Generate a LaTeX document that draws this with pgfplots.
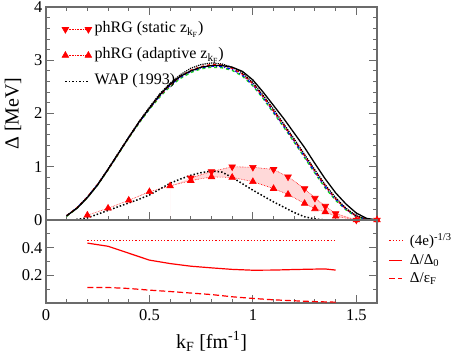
\documentclass[border=0pt]{standalone}
\usepackage{fontspec}
\setmainfont{Liberation Serif}
\usepackage{pgfplots}
\pgfplotsset{compat=1.18}
\definecolor{frame}{gray}{0.42}
\definecolor{ltgreen}{rgb}{0.1,0.85,0.1}
\pgfplotsset{
  panel/.style={
    scale only axis, width=331pt, xmin=0, xmax=1.6,
    axis line style={frame, line width=1.2pt},
    every tick/.style={frame, line width=0.9pt},
    tick align=inside,
    major tick length=8pt, minor tick length=4pt,
    xtick={0,0.5,1,1.5}, minor x tick num=4,
    tick label style={font=\fontsize{16.5}{16.5}\selectfont},
    /pgf/number format/assume math mode=true,
    label style={font=\fontsize{20}{20}\selectfont},
  },
  twomarks/.style={legend image code/.code={\draw[##1] plot coordinates {(0pt,0pt) (23pt,0pt)};}},
  lineimg/.style={legend image code/.code={\draw[##1] (0pt,0pt) -- (24pt,0pt);}},
  shortimg/.style={legend image code/.code={\draw[##1] (0pt,0pt) -- (13pt,0pt);}},
}
\begin{document}
\begin{tikzpicture}
% upper panel: gap
\begin{axis}[panel, name=top,
    height=213pt, ymin=0, ymax=4,
    ytick={0,1,2,3,4}, minor y tick num=4,
    xticklabels={},
    ylabel={Δ [MeV]},
    ylabel style={yshift=6pt},
    legend style={draw=none, fill=none, at={(0.045,0.945)}, anchor=north west,
      font=\fontsize{16}{16}\selectfont, row sep=7pt, inner sep=1pt,
      nodes={inner xsep=3pt, text height=11pt, text depth=4pt}},
    legend cell align=left,
]
% shaded band between static and adaptive
\addplot[fill=red!15, draw=none, forget plot] coordinates {
  (0.6,0.64) (0.7,0.79) (0.8,0.91) (0.9,1.0) (1.0,0.99) (1.1,0.95) (1.17,0.81)
  (1.25,0.59) (1.3,0.41) (1.35,0.26) (1.4,0.12) (1.5,0.0) (1.6,0.0)
  (1.5,0.0) (1.4,0.07) (1.35,0.15) (1.3,0.21) (1.25,0.31) (1.17,0.48) (1.1,0.59)
  (1.0,0.72) (0.9,0.80) (0.8,0.81) (0.7,0.74) (0.6,0.64)} \closedcycle;
% gap curves (no legend)
\addplot[ltgreen, line width=1.4pt, dashed, forget plot] coordinates {
  (0.1,0.07) (0.15,0.22) (0.2,0.42) (0.25,0.66) (0.3,0.94) (0.35,1.24) (0.4,1.54)
  (0.45,1.82) (0.5,2.08) (0.55,2.31) (0.6,2.51) (0.65,2.66) (0.7,2.77) (0.75,2.84)
  (0.8,2.87) (0.85,2.86) (0.9,2.81) (0.95,2.70) (1.0,2.52) (1.05,2.28) (1.1,2.01)
  (1.15,1.74) (1.2,1.46) (1.25,1.17) (1.3,0.88) (1.35,0.60) (1.4,0.37) (1.45,0.19)
  (1.5,0.06) (1.55,0.01) (1.6,0.0)};
\addplot[blue, line width=1.2pt, dash dot, forget plot] coordinates {
  (0.1,0.08) (0.15,0.23) (0.2,0.43) (0.25,0.67) (0.3,0.95) (0.35,1.25) (0.4,1.55)
  (0.45,1.83) (0.5,2.09) (0.55,2.33) (0.6,2.53) (0.65,2.68) (0.7,2.79) (0.75,2.86)
  (0.8,2.89) (0.85,2.88) (0.9,2.83) (0.95,2.72) (1.0,2.54) (1.05,2.30) (1.1,2.03)
  (1.15,1.76) (1.2,1.48) (1.25,1.19) (1.3,0.90) (1.35,0.62) (1.4,0.39) (1.45,0.20)
  (1.5,0.07) (1.55,0.01) (1.6,0.0)};
\addplot[red, line width=1.4pt, dashed, forget plot] coordinates {
  (0.1,0.08) (0.15,0.23) (0.2,0.43) (0.25,0.67) (0.3,0.95) (0.35,1.25) (0.4,1.55)
  (0.45,1.84) (0.5,2.10) (0.55,2.34) (0.6,2.54) (0.65,2.70) (0.7,2.81) (0.75,2.88)
  (0.8,2.92) (0.85,2.91) (0.9,2.85) (0.95,2.74) (1.0,2.56) (1.05,2.32) (1.1,2.05)
  (1.15,1.78) (1.2,1.50) (1.25,1.21) (1.3,0.92) (1.35,0.64) (1.4,0.40) (1.45,0.21)
  (1.5,0.07) (1.55,0.01) (1.6,0.0)};
\addplot[black, line width=1.2pt, densely dotted, forget plot] coordinates {
  (0.1,0.08) (0.15,0.23) (0.2,0.43) (0.25,0.67) (0.3,0.96) (0.35,1.26) (0.4,1.56)
  (0.45,1.85) (0.5,2.12) (0.55,2.37) (0.6,2.57) (0.65,2.73) (0.7,2.85) (0.75,2.92)
  (0.8,2.95) (0.85,2.93) (0.9,2.87) (0.95,2.76) (1.0,2.58) (1.05,2.34) (1.1,2.08)
  (1.15,1.80) (1.2,1.52) (1.25,1.23) (1.3,0.94) (1.35,0.66) (1.4,0.42) (1.45,0.22)
  (1.5,0.08) (1.55,0.02) (1.6,0.0)};
\addplot[black, line width=1.3pt, forget plot] coordinates {
  (0.1,0.08) (0.15,0.22) (0.2,0.42) (0.25,0.66) (0.3,0.95) (0.35,1.25) (0.4,1.55)
  (0.45,1.84) (0.5,2.10) (0.55,2.35) (0.6,2.55) (0.65,2.70) (0.7,2.80) (0.75,2.87)
  (0.8,2.90) (0.85,2.90) (0.9,2.87) (0.95,2.79) (1.0,2.63) (1.05,2.40) (1.1,2.15)
  (1.15,1.90) (1.2,1.63) (1.25,1.36) (1.3,1.06) (1.35,0.77) (1.4,0.51) (1.45,0.30)
  (1.5,0.13) (1.55,0.03) (1.6,0.0)};
% phRG
\addplot[red, densely dotted, line width=0.6pt, mark=triangle*,
  mark options={solid, rotate=180}, mark size=3.8pt, twomarks] coordinates {
  (0.7,0.79) (0.8,0.91) (0.9,1.0) (1.0,0.99) (1.1,0.95) (1.17,0.81)
  (1.25,0.59) (1.3,0.41) (1.35,0.26) (1.4,0.12) (1.5,0.0) (1.6,0.0)};
\addlegendentry{phRG (static z\textsubscript{k\textsubscript{F}})}
\addplot[red, densely dotted, line width=0.6pt, mark=triangle*,
  mark options={solid}, mark size=3.8pt, twomarks] coordinates {
  (0.2,0.09) (0.3,0.22) (0.4,0.37) (0.5,0.53) (0.6,0.64) (0.7,0.74) (0.8,0.81)
  (0.9,0.80) (1.0,0.72) (1.1,0.59) (1.17,0.48) (1.25,0.31) (1.3,0.21)
  (1.35,0.15) (1.4,0.07) (1.5,0.0) (1.6,0.0)};
\addlegendentry{phRG (adaptive z\textsubscript{k\textsubscript{F}})}
\addplot[black, line width=1.5pt, dotted, lineimg] coordinates {
  (0.13,0.0) (0.2,0.04) (0.25,0.11) (0.3,0.18) (0.35,0.25) (0.4,0.32) (0.45,0.39)
  (0.5,0.47) (0.55,0.58) (0.6,0.69) (0.65,0.77) (0.7,0.84) (0.75,0.89) (0.8,0.92)
  (0.85,0.90) (0.9,0.80) (0.95,0.68) (1.0,0.56) (1.05,0.45) (1.1,0.34) (1.15,0.24)
  (1.2,0.14) (1.25,0.06) (1.3,0.02) (1.35,0.0)};
\addlegendentry{WAP (1993)}
\end{axis}
% lower panel: ratios
\begin{axis}[panel, at={(top.south west)}, anchor=north west,
    height=83pt, ymin=0, ymax=0.6,
    ytick={0.2,0.4}, minor ytick={0.1,0.3,0.5},
    xtick pos=bottom,
    xticklabel style={yshift=-3pt},
    xlabel={k\textsubscript{F} [fm\textsuperscript{-1}]},
    xlabel style={yshift=-4pt},
    legend style={draw=none, fill=none, at={(1.035,0.86)}, anchor=north west,
      font=\fontsize{15}{15}\selectfont, row sep=3pt, inner sep=0pt,
      nodes={inner xsep=7pt}},
    legend cell align=left,
]
\addplot[red, line width=1.2pt, dotted, shortimg] coordinates {
  (0.2,0.4513) (1.4,0.4513)};
\addlegendentry{(4e)\textsuperscript{-1/3}}
\addplot[red, line width=1.2pt, shortimg] coordinates {
  (0.2,0.433) (0.3,0.41) (0.4,0.36) (0.5,0.31) (0.6,0.285) (0.7,0.266) (0.8,0.254)
  (0.9,0.243) (1.0,0.237) (1.1,0.238) (1.2,0.242) (1.3,0.245) (1.35,0.246) (1.4,0.238)};
\addlegendentry{Δ/Δ\textsubscript{0}}
\addplot[red, line width=1.2pt, dash pattern=on 6pt off 3pt, shortimg] coordinates {
  (0.2,0.112) (0.3,0.112) (0.4,0.105) (0.5,0.093) (0.6,0.083) (0.7,0.072) (0.8,0.061)
  (0.9,0.045) (1.0,0.033) (1.1,0.023) (1.2,0.016) (1.3,0.010) (1.4,0.006)};
\addlegendentry{Δ/ε\textsubscript{F}}
\end{axis}
\pgfresetboundingbox
\path ([shift={(-46pt,7pt)}]top.north west) rectangle ([shift={(411pt,-347pt)}]top.north west);
\end{tikzpicture}
\end{document}
